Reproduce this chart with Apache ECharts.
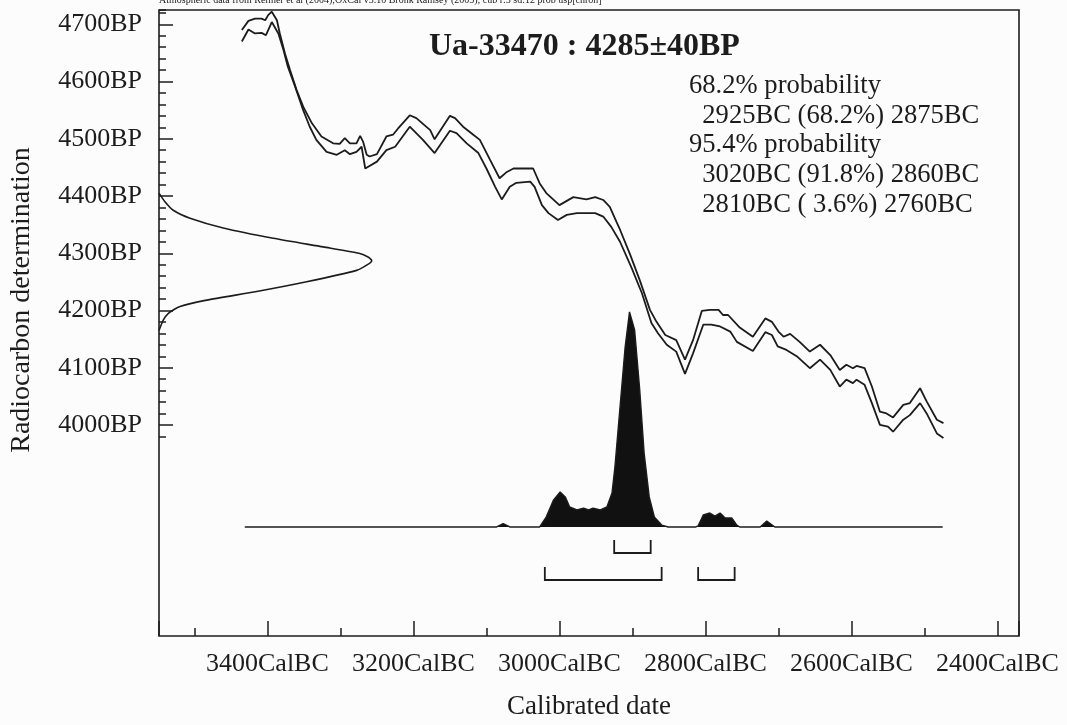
<!DOCTYPE html>
<html><head><meta charset="utf-8">
<script src="https://cdn.jsdelivr.net/npm/echarts@6/dist/echarts.min.js"></script>
<style>html,body{margin:0;padding:0;background:#fcfcfc}#c{width:1067px;height:725px}</style>
</head><body><div id="c"></div>
<script>
// ---- data ----
const headerText = 'Atmospheric data from Reimer et al (2004);OxCal v3.10 Bronk Ramsey (2005); cub r:5 sd:12 prob usp[chron]';
const titleText = 'Ua-33470 : 4285\u00b140BP';
const resultLines = ['68.2% probability', '  2925BC (68.2%) 2875BC', '95.4% probability', '  3020BC (91.8%) 2860BC', '  2810BC ( 3.6%) 2760BC'];
const xSuffix = 'CalBC';
const ySuffix = 'BP';
const xName = 'Calibrated date';
const yName = 'Radiocarbon determination';

// calibration curve envelope [cal BC, BP]
const curveUpper = [[3435,4690],[3426,4706],[3417,4710],[3408,4710],[3403,4707],[3399,4716],[3394,4722],[3387,4707],[3383,4684],[3376,4649],[3369,4620],[3360,4585],[3351,4556],[3339,4527],[3326,4504],[3310,4492],[3301,4491],[3294,4501],[3287,4492],[3278,4492],[3273,4505],[3269,4495],[3264,4472],[3260,4469],[3250,4473],[3237,4504],[3228,4507],[3221,4518],[3205,4541],[3196,4536],[3177,4515],[3171,4499],[3150,4540],[3143,4536],[3132,4521],[3118,4507],[3109,4498],[3095,4463],[3082,4431],[3072,4442],[3063,4448],[3036,4448],[3027,4422],[3018,4405],[3000,4384],[2981,4398],[2963,4394],[2951,4398],[2940,4393],[2931,4381],[2922,4355],[2917,4341],[2903,4297],[2890,4253],[2876,4201],[2867,4180],[2855,4157],[2840,4148],[2828,4114],[2817,4148],[2805,4199],[2794,4201],[2782,4201],[2776,4192],[2769,4192],[2753,4170],[2735,4154],[2718,4186],[2709,4180],[2700,4163],[2693,4154],[2684,4159],[2671,4145],[2657,4128],[2643,4140],[2629,4122],[2616,4096],[2607,4105],[2598,4099],[2593,4103],[2582,4099],[2572,4067],[2561,4023],[2552,4020],[2543,4013],[2529,4035],[2520,4038],[2506,4064],[2497,4041],[2483,4009],[2474,4003]];
const curveLower = [[3435,4670],[3426,4691],[3417,4684],[3408,4685],[3402,4681],[3394,4704],[3385,4684],[3378,4655],[3372,4626],[3362,4591],[3351,4550],[3342,4521],[3333,4498],[3319,4477],[3305,4472],[3294,4480],[3287,4473],[3278,4477],[3271,4486],[3266,4448],[3250,4460],[3237,4480],[3225,4486],[3205,4521],[3187,4498],[3171,4475],[3150,4514],[3141,4510],[3127,4492],[3111,4475],[3100,4448],[3088,4416],[3079,4394],[3068,4416],[3059,4423],[3040,4425],[3034,4416],[3024,4384],[3015,4370],[3002,4358],[2990,4367],[2976,4370],[2951,4370],[2940,4364],[2929,4346],[2917,4320],[2901,4274],[2887,4230],[2874,4178],[2865,4160],[2853,4140],[2840,4128],[2828,4089],[2817,4125],[2803,4175],[2792,4175],[2780,4172],[2766,4163],[2757,4145],[2735,4129],[2718,4162],[2709,4157],[2701,4137],[2689,4131],[2675,4120],[2657,4099],[2643,4114],[2629,4096],[2616,4067],[2607,4079],[2598,4073],[2593,4079],[2582,4070],[2572,4038],[2561,4000],[2550,3997],[2543,3988],[2529,4009],[2520,4017],[2506,4038],[2497,4020],[2483,3985],[2474,3977]];

// radiocarbon measurement distribution (relative)
const gaussBP   = [4405,4390,4375,4361,4344,4326,4311,4300,4293,4287,4280,4270,4250,4233,4218,4207,4195,4183,4165];
const gaussProb = [0,0.028,0.067,0.146,0.302,0.537,0.772,0.94,0.985,1.0,0.98,0.929,0.694,0.459,0.224,0.099,0.044,0.02,0];

// calibrated distribution (relative)
const distYears = [3431,3086,3077,3068,3027,3018,3008,2999,2992,2986,2976,2967,2960,2954,2944,2935,2928,2924,2917,2910,2904,2897,2890,2884,2877,2870,2860,2851,2813,2810,2803,2794,2787,2780,2773,2764,2757,2753,2725,2716,2705,2475];
const distProb  = [0,0,0.016,0,0,0.047,0.126,0.163,0.14,0.093,0.079,0.088,0.079,0.088,0.079,0.093,0.158,0.279,0.558,0.837,1.0,0.916,0.637,0.344,0.14,0.047,0.009,0,0,0.005,0.056,0.065,0.051,0.065,0.042,0.042,0.009,0,0,0.028,0,0];

// ranges [from BC, to BC]
const ranges68 = [[2925, 2875]];
const ranges95 = [[3020, 2860], [2810, 2760]];

// ---- chart ----
const INK = '#1c1c1c';
const FONT = 'Liberation Serif';
const chart = echarts.init(document.getElementById('c'), null, {renderer: 'canvas'});
const gridBase = {left: 159, right: 48, outerBoundsMode: 'none', containLabel: false};

const bracketData = ranges68.map(r => [r[0], r[1], 0]).concat(ranges95.map(r => [r[0], r[1], 1]));

chart.setOption({
  backgroundColor: '#fcfcfc',
  animation: false,
  title: [
    {text: headerText, left: 159, top: -5, padding: 0, textStyle: {fontFamily: FONT, fontSize: 10, fontWeight: 'normal', color: INK}},
    {text: titleText, left: 429, top: 31, padding: 0, textStyle: {fontFamily: FONT, fontSize: 32, fontWeight: 'bold', color: INK}},
    {text: resultLines.join('\n'), left: 689, top: 71, padding: 0, textStyle: {fontFamily: FONT, fontSize: 26.6, lineHeight: 29.8, fontWeight: 'normal', color: INK}}
  ],
  graphic: [
    {type: 'text', x: 22, y: 300, rotation: Math.PI / 2,
     style: {text: yName, fontFamily: FONT, fontSize: 28, fill: INK, align: 'center', verticalAlign: 'middle'}}
  ],
  grid: [
    Object.assign({top: 10, bottom: 89, show: true, borderColor: INK, borderWidth: 1.6, backgroundColor: 'transparent'}, gridBase),
    Object.assign({top: 10, bottom: 300}, gridBase),
    Object.assign({top: 10, bottom: 288.55}, gridBase)
  ],
  xAxis: [
    {type: 'value', gridIndex: 0, inverse: true, min: 2370.5, max: 3548.5, splitNumber: 6, position: 'bottom',
     axisLine: {show: false, onZero: false},
     axisTick: {show: true, inside: true, length: 15, lineStyle: {color: INK, width: 1.5}},
     minorTick: {show: true, splitNumber: 2, length: 8, lineStyle: {color: INK, width: 1.5}},
     splitLine: {show: false}, minorSplitLine: {show: false},
     axisLabel: {show: true, margin: 15, showMinLabel: false, showMaxLabel: false, hideOverlap: false,
       formatter: v => v + xSuffix, fontFamily: FONT, fontSize: 26, color: INK},
     name: xName, nameLocation: 'middle', nameGap: 57,
     nameTextStyle: {fontFamily: FONT, fontSize: 27, color: INK}},
    {type: 'value', gridIndex: 0, min: 0, max: 4.043, show: false, axisLine: {onZero: false}},
    {type: 'value', gridIndex: 1, min: 0, max: 1, show: false, axisLine: {onZero: false}},
    {type: 'value', gridIndex: 2, min: 0, max: 1, show: false, axisLine: {onZero: false}}
  ],
  yAxis: [
    {type: 'value', gridIndex: 0, min: 3631, max: 4725, show: false, axisLine: {onZero: false}},
    {type: 'value', gridIndex: 0, min: -0.5069, max: 2.404, show: false, axisLine: {onZero: false}},
    {type: 'value', gridIndex: 1, min: 4000, max: 4725, interval: 100, position: 'left',
     axisLine: {show: false, onZero: false},
     axisTick: {show: true, inside: true, length: 14, lineStyle: {color: INK, width: 1.5}},
     splitLine: {show: false},
     axisLabel: {show: true, margin: 17, showMaxLabel: false, formatter: v => v + ySuffix,
       fontFamily: FONT, fontSize: 26, color: INK}},
    {type: 'value', gridIndex: 2, min: 3980, max: 4725, interval: 20, position: 'left',
     axisLine: {show: false, onZero: false},
     axisTick: {show: true, inside: true, length: 7, lineStyle: {color: INK, width: 1.5}},
     splitLine: {show: false}, axisLabel: {show: false}}
  ],
  series: [
    {type: 'line', xAxisIndex: 0, yAxisIndex: 0, data: curveUpper, showSymbol: false, silent: true,
     lineStyle: {color: INK, width: 1.8}},
    {type: 'line', xAxisIndex: 0, yAxisIndex: 0, data: curveLower, showSymbol: false, silent: true,
     lineStyle: {color: INK, width: 1.8}},
    {type: 'line', xAxisIndex: 1, yAxisIndex: 0, data: gaussProb.map((p, i) => [p, gaussBP[i]]),
     showSymbol: false, silent: true, smooth: 0.2, lineStyle: {color: INK, width: 1.6}},
    {type: 'line', xAxisIndex: 0, yAxisIndex: 1, data: distYears.map((y, i) => [y, distProb[i]]),
     showSymbol: false, silent: true, lineStyle: {color: INK, width: 1.4},
     areaStyle: {color: '#111', opacity: 1, origin: 0}},
    {type: 'custom', xAxisIndex: 0, yAxisIndex: 1, data: bracketData, silent: true,
     encode: {x: [0, 1], y: 2},
     renderItem: (params, api) => {
       const a = api.coord([api.value(0), 0]);
       const b = api.coord([api.value(1), 0]);
       const lvl = api.value(2);
       const bottom = a[1] + (lvl === 0 ? 26 : 53);
       const top = bottom - 13;
       return {type: 'polyline',
         shape: {points: [[a[0], top], [a[0], bottom], [b[0], bottom], [b[0], top]]},
         style: {stroke: INK, lineWidth: 1.8, fill: null}};
     }}
  ]
});
</script>
</body></html>
